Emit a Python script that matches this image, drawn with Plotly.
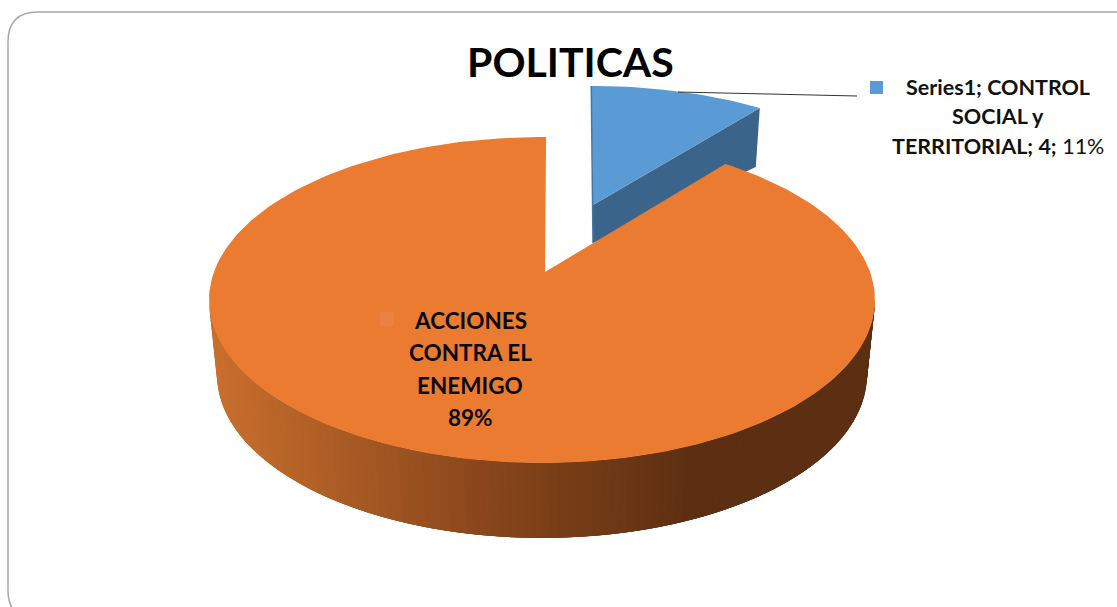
import numpy as np
import plotly.graph_objects as go

# ---- data ----
categories = ["CONTROL SOCIAL y TERRITORIAL", "ACCIONES CONTRA EL ENEMIGO"]
values = [4, 33]
series_name = "Series1"
title_text = "POLITICAS"

# ---- style ----
total = sum(values)
shares = [v / total for v in values]
FONT = "Lato, 'Noto Sans', sans-serif"
BLUE, BLUE_DARK = "#5B9BD5", "#3A6489"
ORANGE, ORANGE_KEY = "#EA7B31", "#EC823F"
RX, RY = 333, 163
TOP_C = (542, 300)
BOT_C = (542, 375)
BOT_RX = 325
ORANGE_APEX = (545, 272)
BLUE_C = (593, 249)
BLUE_APEX = (593, 205)
SIDE_STOPS = [(209, (203, 113, 46)), (470, (140, 72, 28)), (690, (92, 47, 18)), (880, (92, 47, 18))]

fig = go.Figure()


def ell(c, rx, ry, deg):
    t = np.radians(deg)
    return c[0] + rx * np.cos(t), c[1] - ry * np.sin(t)


def poly(xs, ys, color, lw=0.0, lc=None):
    fig.add_trace(go.Scatter(x=list(xs), y=list(ys), mode="lines", fill="toself", fillcolor=color,
                             line=dict(color=lc or color, width=lw), hoverinfo="skip", showlegend=False))


def side_color(x):
    px = [s[0] for s in SIDE_STOPS]
    return "rgb(%d,%d,%d)" % tuple(np.interp(x, px, [s[1][i] for s in SIDE_STOPS]) for i in range(3))


# blue slice: projected sweep is foreshortened at the back of the tilted disc
blue_start = 90.3
blue_end = blue_start - shares[0] * 360 * 0.78
bex, bey = ell(BLUE_C, RX, RY, blue_end)
poly([BLUE_APEX[0], bex, bex - 4, BLUE_APEX[0]], [BLUE_APEX[1], bey, bey + 59, BLUE_APEX[1] + 38], BLUE_DARK)
arc = np.linspace(blue_start, blue_end, 40)
ax, ay = ell(BLUE_C, RX, RY, arc)
poly([BLUE_APEX[0], *ax], [BLUE_APEX[1], *ay], BLUE)
fig.add_trace(go.Scatter(x=[BLUE_APEX[0], ax[0]], y=[BLUE_APEX[1] + 38, ay[0]], mode="lines",
                         line=dict(color="#47769F", width=1.5), hoverinfo="skip", showlegend=False))

# orange rim, painted left to right; each strip overlaps the next so no seams appear
edges = np.arange(180, 360, 1.5)
for a in edges:
    b = min(a + 6, 360)
    x1, y1 = ell(TOP_C, RX, RY, a)
    x2, y2 = ell(TOP_C, RX, RY, b)
    x3, y3 = ell(BOT_C, BOT_RX, RY, b)
    x4, y4 = ell(BOT_C, BOT_RX, RY, a)
    poly([x1, x2, x3, x4], [y1, y2, y3, y4], side_color(x4))

# orange top face
or_start = 89.3
or_end = or_start + 360 - shares[0] * 360 * 0.84
arc = np.linspace(or_start, or_end, 240)
ax, ay = ell(TOP_C, RX, RY, arc)
poly([ORANGE_APEX[0], *ax], [ORANGE_APEX[1], *ay], ORANGE)

# faint key of the data label
fig.add_trace(go.Scatter(x=[387], y=[319], mode="markers", hoverinfo="skip", showlegend=False,
                         marker=dict(symbol="square", size=14, color=ORANGE_KEY)))
# legend key and leader line
fig.add_trace(go.Scatter(x=[876.5], y=[87.5], mode="markers", hoverinfo="skip", showlegend=False,
                         marker=dict(symbol="square", size=13, color=BLUE)))
fig.add_trace(go.Scatter(x=[678, 857], y=[92, 96], mode="lines", hoverinfo="skip", showlegend=False,
                         line=dict(color="#333333", width=1)))

pct = [f"{round(s * 100)}%" for s in shares]
a_words = categories[1].split(" ")
lab_big = [a_words[0], " ".join(a_words[1:3]), a_words[3], pct[1]]
for t, y in zip(lab_big, [320, 352, 385, 417]):
    fig.add_annotation(x=470, y=y, text=f"<b>{t}</b>", showarrow=False,
                       font=dict(family=FONT, size=22.5, color="#0A0A0A"))
b_words = categories[0].split(" ")
lab_small = [f"<b>{series_name}; {b_words[0]}</b>", f"<b>{b_words[1]} {b_words[2]}</b>",
             f"<b>{b_words[3]}; {values[0]};</b> {pct[0]}"]
for t, y in zip(lab_small, [87, 116, 146]):
    fig.add_annotation(x=998, y=y, text=t, showarrow=False, font=dict(family=FONT, size=21.5, color="#111111"))
fig.add_annotation(x=570, y=61, text=f"<b>{title_text}</b>", showarrow=False,
                   font=dict(family=FONT, size=41, color="#000000"))

# rounded card
L, T, R, B, r = 8, 12, 1160, 620, 30
card = (f"M{L},{B-r} L{L},{T+r} Q{L},{T} {L+r},{T} L{R-r},{T} Q{R},{T} {R},{T+r} "
        f"L{R},{B-r} Q{R},{B} {R-r},{B} L{L+r},{B} Q{L},{B} {L},{B-r} Z")
fig.add_shape(type="path", path=card, line=dict(color="#A8A8A8", width=1.5), fillcolor="white", layer="below")

fig.update_layout(width=1117, height=607, margin=dict(l=0, r=0, t=0, b=0), showlegend=False,
                  paper_bgcolor="white", plot_bgcolor="white",
                  xaxis=dict(range=[0, 1117], visible=False, fixedrange=True),
                  yaxis=dict(range=[607, 0], visible=False, fixedrange=True))
fig.write_html("out.html", config={"displayModeBar": False},
               post_script="document.body.style.margin='0';document.body.style.overflow='hidden';")
